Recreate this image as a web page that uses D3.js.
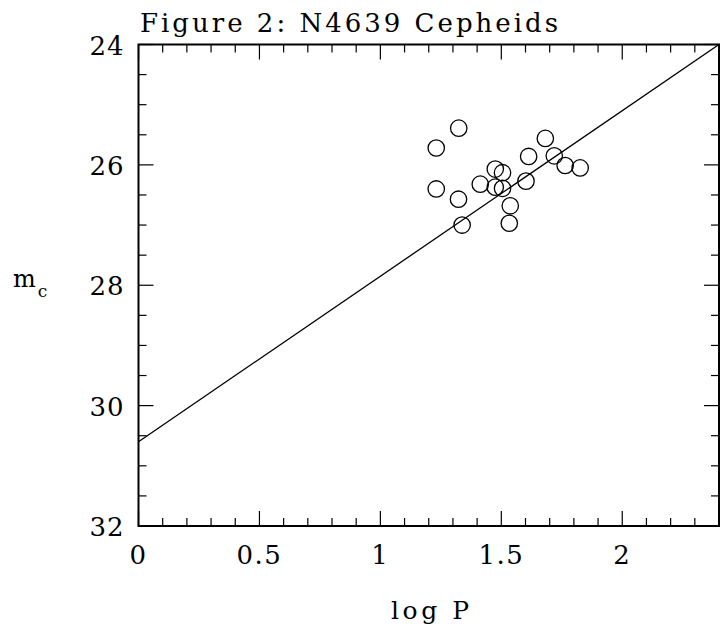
<!DOCTYPE html>
<html lang="en">
<head>
<meta charset="UTF-8">
<title>N4639 Cepheids</title>
<script src="https://d3js.org/d3.v7.min.js"></script>
<style>
  body { margin: 0; background: #fff; }
  text { font-family: "DejaVu Serif", serif; fill: #000; }
</style>
</head>
<body>
<script>
// data
var logP = [1.324, 1.231, 1.682, 1.613, 1.719, 1.764, 1.826, 1.475, 1.505,
            1.413, 1.475, 1.505, 1.602, 1.231, 1.323, 1.537, 1.338, 1.533]
var mc   = [25.39, 25.72, 25.56, 25.86, 25.85, 26.01, 26.05, 26.07, 26.13,
            26.32, 26.37, 26.39, 26.27, 26.40, 26.57, 26.68, 27.00, 26.97]
var fitZero = 30.6    // m_c at log P = 0
var fitSlope = -2.75
var xTicks = [0, 0.5, 1, 1.5, 2]
var yTicks = [24, 26, 28, 30, 32]

var width = 720, height = 635
var padding = {top: 44.5, right: 1, bottom: 109, left: 138.5}
var svg = d3.select('body').append('svg').attr('width', width).attr('height', height)

var xScale = d3.scaleLinear().domain([0, 2.4]).range([padding.left, width - padding.right])
var yScale = d3.scaleLinear().domain([24, 32]).range([padding.top, height - padding.bottom])
var x0 = xScale.range()[0], x1 = xScale.range()[1]
var y0 = yScale.range()[0], y1 = yScale.range()[1]

// frame
svg.append('rect').attr('x', x0).attr('y', y0)
  .attr('width', x1 - x0).attr('height', y1 - y0)
  .attr('fill', 'none').attr('stroke', '#000').attr('stroke-width', 2)

// ticks on all four sides, inward
var xMinor = d3.range(0, 2.41, 0.1)
var yMinor = d3.range(24, 32.01, 0.5)
function isMajor(v, step) { return Math.abs(v / step - Math.round(v / step)) < 1e-6 }
var tg = svg.append('g').attr('stroke', '#000').attr('stroke-width', 1.2)
xMinor.forEach(function (v) {
  var len = isMajor(v, 0.5) ? 15 : 8
  var x = xScale(v)
  tg.append('line').attr('x1', x).attr('x2', x).attr('y1', y1).attr('y2', y1 - len)
  tg.append('line').attr('x1', x).attr('x2', x).attr('y1', y0).attr('y2', y0 + len)
})
yMinor.forEach(function (v) {
  var len = isMajor(v, 2) ? 15 : 8
  var y = yScale(v)
  tg.append('line').attr('x1', x0).attr('x2', x0 + len).attr('y1', y).attr('y2', y)
  tg.append('line').attr('x1', x1).attr('x2', x1 - len).attr('y1', y).attr('y2', y)
})

// tick labels
svg.selectAll('.xl').data(xTicks).enter().append('text')
  .attr('x', function (d) { return xScale(d) }).attr('y', y1 + 38)
  .attr('text-anchor', 'middle').attr('font-size', 26).attr('letter-spacing', 1.5)
  .text(function (d) { return d3.format('')(d) })
svg.selectAll('.yl').data(yTicks).enter().append('text')
  .attr('x', x0 - 14).attr('y', function (d) { return yScale(d) + 10 })
  .attr('text-anchor', 'end').attr('font-size', 26).attr('letter-spacing', 1)
  .text(function (d) { return d })

// fit line, clipped to the frame
svg.append('clipPath').attr('id', 'clip').append('rect')
  .attr('x', x0).attr('y', y0).attr('width', x1 - x0).attr('height', y1 - y0)
var line = d3.line().x(function (d) { return xScale(d) })
  .y(function (d) { return yScale(fitZero + fitSlope * d) })
svg.append('path').datum([0, 2.4]).attr('d', line)
  .attr('fill', 'none').attr('stroke', '#000').attr('stroke-width', 1.3)
  .attr('clip-path', 'url(#clip)')

// points
svg.selectAll('circle.pt').data(logP).enter().append('circle')
  .attr('class', 'pt')
  .attr('cx', function (d) { return xScale(d) })
  .attr('cy', function (d, i) { return yScale(mc[i]) })
  .attr('r', 8.2).attr('fill', 'none').attr('stroke', '#000').attr('stroke-width', 1.3)

// titles
svg.append('text').attr('x', 140).attr('y', 32).attr('font-size', 26)
  .attr('textLength', 418).attr('lengthAdjust', 'spacing')
  .text('Figure 2: N4639 Cepheids')
svg.append('text').attr('x', 391).attr('y', 619)
  .attr('font-size', 25).attr('textLength', 78).attr('lengthAdjust', 'spacing')
  .text('log P')
var yl = svg.append('text').attr('x', 13).attr('y', 287).attr('font-size', 24)
yl.append('tspan').text('m')
yl.append('tspan').attr('font-size', 17).attr('dx', 2).attr('dy', 10).text('c')
</script>
</body>
</html>
